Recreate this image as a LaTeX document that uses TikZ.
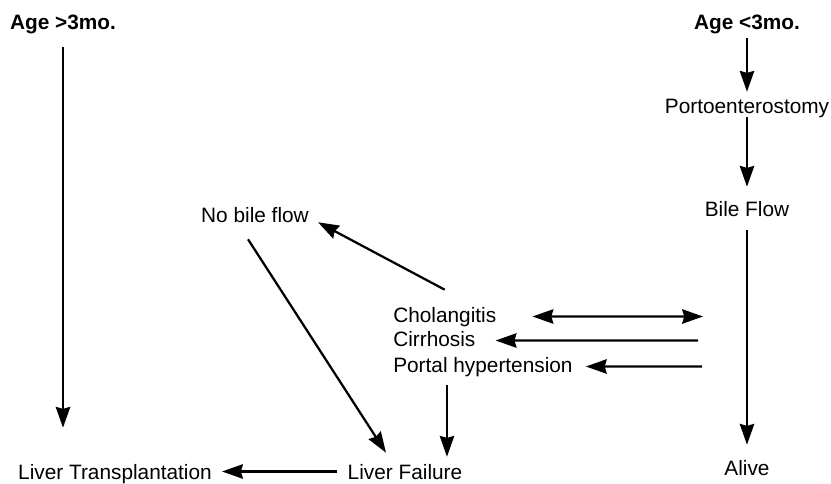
\documentclass[tikz,border=0pt]{standalone}
\usepackage{fontspec}
\setmainfont{Liberation Sans}
\usetikzlibrary{arrows.meta}

\begin{document}
\begin{tikzpicture}[x=0.025cm, y=-0.025cm,
    lbl/.style = {inner sep=0pt, text height=0.375cm, text depth=0.1cm, anchor=base,
                  font=\fontsize{14.8}{17}\selectfont},
    bold/.style = {font=\fontsize{14.8}{17}\selectfont\bfseries},
    arr/.style = {line width=1.6pt, -{Stealth[length=0.52cm, width=0.36cm, inset=0.05cm]}},
    both/.style = {line width=1.6pt, {Stealth[length=0.52cm, width=0.36cm, inset=0.05cm]}-{Stealth[length=0.52cm, width=0.36cm, inset=0.05cm]}}]
    \useasboundingbox (0,0) rectangle (831,483);

    % the two age groups
    \node[lbl, bold] (older) at (63,29) {Age >3mo.};
    \node[lbl, bold] (younger) at (747,29) {Age <3mo.};

    \node[lbl] (kasai) at (747,113) {Portoenterostomy};
    \node[lbl] (flow) at (747,216) {Bile Flow};
    \node[lbl] (alive) at (747,475) {Alive};

    \node[lbl] (nobile) at (255,222) {No bile flow};
    \node[lbl, anchor=base west] (chol) at (393,322) {Cholangitis};
    \node[lbl, anchor=base west] (cirr) at (393,346) {Cirrhosis};
    \node[lbl, anchor=base west] (portal) at (393,372) {Portal hypertension};

    \node[lbl] (failure) at (405,479) {Liver Failure};
    \node[lbl] (ltx) at (115,479) {Liver Transplantation};

    % loose ends beside the bile flow line
    \coordinate (r1) at (703,316.5);
    \coordinate (r2) at (698,340.5);
    \coordinate (r3) at (702,366.5);

    \draw[arr, shorten <=0.35cm, shorten >=0.9cm] (older.south) -- (older.south |- ltx.north);
    \draw[arr, shorten <=0.125cm, shorten >=0.15cm] (younger) -- (kasai);
    \draw[arr, shorten >=0.35cm] (kasai) -- (flow);
    \draw[arr, shorten <=0.25cm, shorten >=0.375cm] (flow) -- (alive);

    \draw[arr] ([yshift=0.425cm]chol.north) -- ([shift={(9,-4)}]nobile.south east);
    \draw[arr] ([shift={(-7,13)}]nobile.south) -- ([shift={(-19,-11)}]failure.north);
    \draw[arr] ([shift={(54,9)}]portal.south west) -- ([shift={(42,-7)}]failure.north);
    \draw[arr] ([shift={(-10,-2)}]failure.west) -- ([shift={(10,-2)}]ltx.east);

    \draw[both] ([xshift=0.9cm]chol.east) -- (r1);
    \draw[arr] (r2) -- ([xshift=0.5cm]cirr.east);
    \draw[arr] (r3) -- ([xshift=0.325cm]portal.east);
\end{tikzpicture}
\end{document}
